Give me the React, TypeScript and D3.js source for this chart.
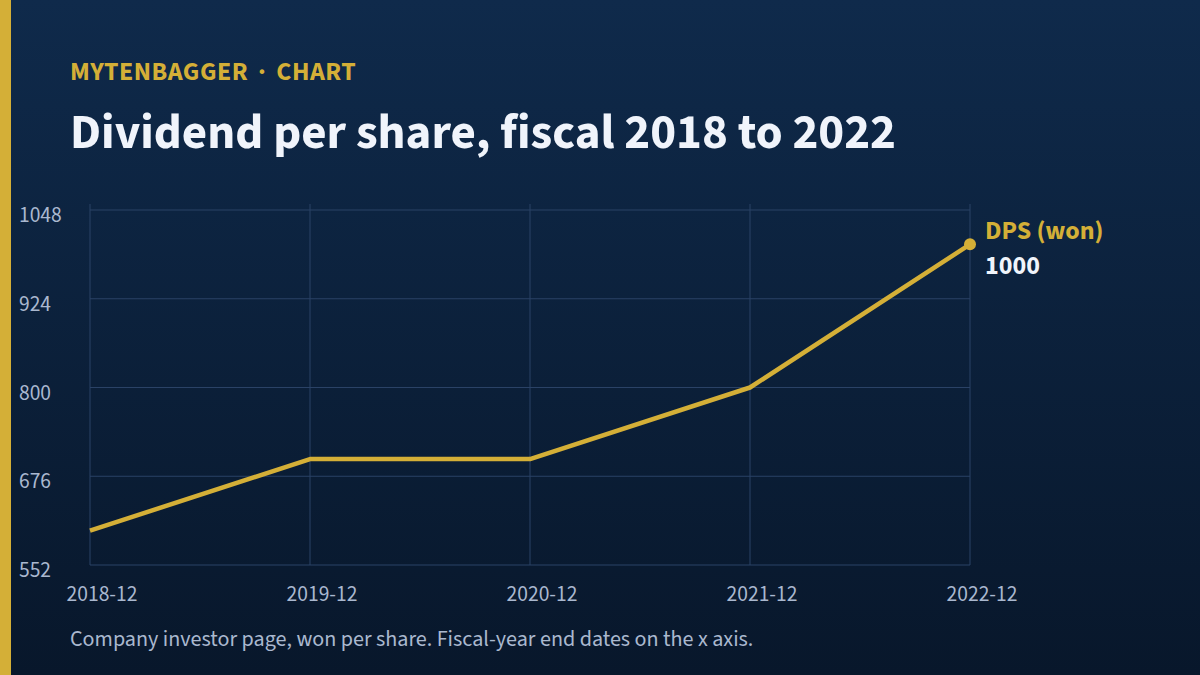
import React from 'react';
import * as d3 from 'd3';

const periods = ['2018-12', '2019-12', '2020-12', '2021-12', '2022-12'];
const dps = [600, 700, 700, 800, 1000];
const yTicks = [552, 676, 800, 924, 1048];

const seriesName = 'DPS (won)';
const brand = 'MYTENBAGGER';
const section = 'CHART';
const title = 'Dividend per share, fiscal 2018 to 2022';
const footnote = 'Company investor page, won per share. Fiscal-year end dates on the x axis.';

const W = 1200;
const H = 675;
const margin = { top: 210, right: 230, bottom: 110, left: 90 };
const FONT = '"Source Sans 3", "Source Sans Pro", Lato, "Noto Sans", sans-serif';
const GOLD = '#d4af37';
const GRID = '#2a4266';
const MUTED = '#aab8cf';

const App: React.FC = () => {
  const x = d3.scalePoint<string>()
    .domain(periods)
    .range([margin.left, W - margin.right]);

  const y = d3.scaleLinear()
    .domain([552, 1048])
    .range([H - margin.bottom, margin.top]);

  const points = periods.map((p, i) => ({ p, v: dps[i] }));
  const line = d3.line<{ p: string; v: number }>()
    .x(d => x(d.p) as number)
    .y(d => y(d.v));

  const last = points[points.length - 1];
  const lastX = x(last.p) as number;
  const lastY = y(last.v);

  return (
    <svg width={W} height={H} style={{ display: 'block', position: 'absolute', left: 0, top: 0 }}>
      <defs>
        <linearGradient id="bg" x1="0" y1="0" x2="0" y2="1">
          <stop offset="0%" stopColor="#0f2a4b" />
          <stop offset="100%" stopColor="#08172b" />
        </linearGradient>
      </defs>
      <rect width={W} height={H} fill="url(#bg)" />
      <rect width={11} height={H} fill={GOLD} />

      <text x={70} y={80} fill={GOLD} fontFamily={FONT} fontWeight={700} fontSize={26} letterSpacing={0.5}>
        {brand}
        <tspan dx={10}>·</tspan>
        <tspan dx={10}>{section}</tspan>
      </text>
      <text x={70} y={148} fill="#f0f4fb" fontFamily={FONT} fontWeight={700} fontSize={49}>
        {title}
      </text>

      {/* grid */}
      <g>
        {yTicks.map(t => (
          <line key={t} x1={margin.left} x2={W - margin.right} y1={y(t)} y2={y(t)} stroke={GRID} strokeWidth={1} />
        ))}
        {periods.map(p => (
          <line key={p} x1={x(p)} x2={x(p)} y1={margin.top - 6} y2={H - margin.bottom} stroke={GRID} strokeWidth={1} />
        ))}
      </g>

      {/* y labels */}
      <g fontFamily={FONT} fontSize={21.5} fill={MUTED}>
        {yTicks.map(t => (
          <text key={t} x={19} y={y(t)} dy={12}>{t}</text>
        ))}
      </g>

      {/* x labels */}
      <g fontFamily={FONT} fontSize={21.5} fill={MUTED} textAnchor="middle">
        {periods.map(p => (
          <text key={p} x={(x(p) as number) + 12} y={601}>{p}</text>
        ))}
      </g>

      <path d={line(points) ?? ''} fill="none" stroke={GOLD} strokeWidth={4.5} strokeLinejoin="round" />
      <circle cx={lastX} cy={lastY} r={6} fill={GOLD} />

      <text x={lastX + 15} y={lastY - 5} fill={GOLD} fontFamily={FONT} fontWeight={700} fontSize={26}>
        {seriesName}
      </text>
      <text x={lastX + 15} y={lastY + 30} fill="#f0f4fb" fontFamily={FONT} fontWeight={700} fontSize={26}>
        {last.v}
      </text>

      <text x={70} y={646} fill={MUTED} fontFamily={FONT} fontSize={22.1}>
        {footnote}
      </text>
    </svg>
  );
};

export default App;
